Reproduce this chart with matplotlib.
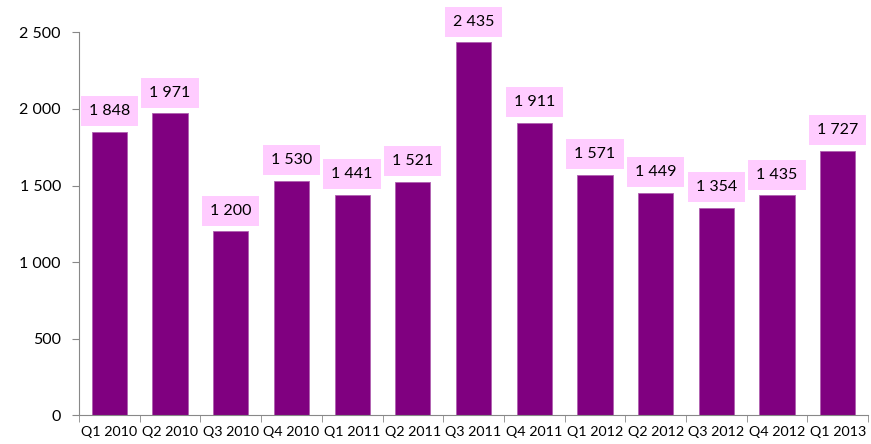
import matplotlib.pyplot as plt
from matplotlib.ticker import FuncFormatter, MultipleLocator

quarters = ["Q1 2010", "Q2 2010", "Q3 2010", "Q4 2010",
            "Q1 2011", "Q2 2011", "Q3 2011", "Q4 2011",
            "Q1 2012", "Q2 2012", "Q3 2012", "Q4 2012", "Q1 2013"]
values = [1848, 1971, 1200, 1530, 1441, 1521, 2435, 1911,
          1571, 1449, 1354, 1435, 1727]

plt.rcParams['font.family'] = ['Lato', 'DejaVu Sans']


def space_thousands(v, pos=None):
    return f"{int(v):,}".replace(",", " ")


fig = plt.figure(figsize=(8.71, 4.44), dpi=100)
ax = fig.add_axes([0.0907, 0.065, 0.906, 0.862])

x = list(range(len(quarters)))
ax.bar(x, values, width=0.58, color="#800080", edgecolor="#b060b0", linewidth=0.6)

for xi, v in zip(x, values):
    ax.annotate(space_thousands(v), (xi, v), xytext=(0, 15), textcoords="offset points",
                ha="center", va="center", fontsize=11.5, color="black",
                bbox=dict(boxstyle="square,pad=0.5", fc="#ffccff", ec="none"))

ax.set_xlim(-0.5, len(quarters) - 0.5)
ax.set_ylim(0, 2500)
ax.yaxis.set_major_locator(MultipleLocator(500))
ax.yaxis.set_major_formatter(FuncFormatter(space_thousands))

ax.set_xticks(x)
ax.set_xticklabels(quarters)
ax.tick_params(axis="x", which="major", length=0, labelsize=10.3, pad=8)
ax.set_xticks([i - 0.5 for i in range(len(quarters) + 1)], minor=True)
ax.tick_params(axis="x", which="minor", length=5, color="#888888")
ax.tick_params(axis="y", length=5, color="#888888", labelsize=11.5, pad=8)

for side in ["top", "right"]:
    ax.spines[side].set_visible(False)
for side in ["left", "bottom"]:
    ax.spines[side].set_color("#888888")

fig.savefig("out.png", dpi=100)
